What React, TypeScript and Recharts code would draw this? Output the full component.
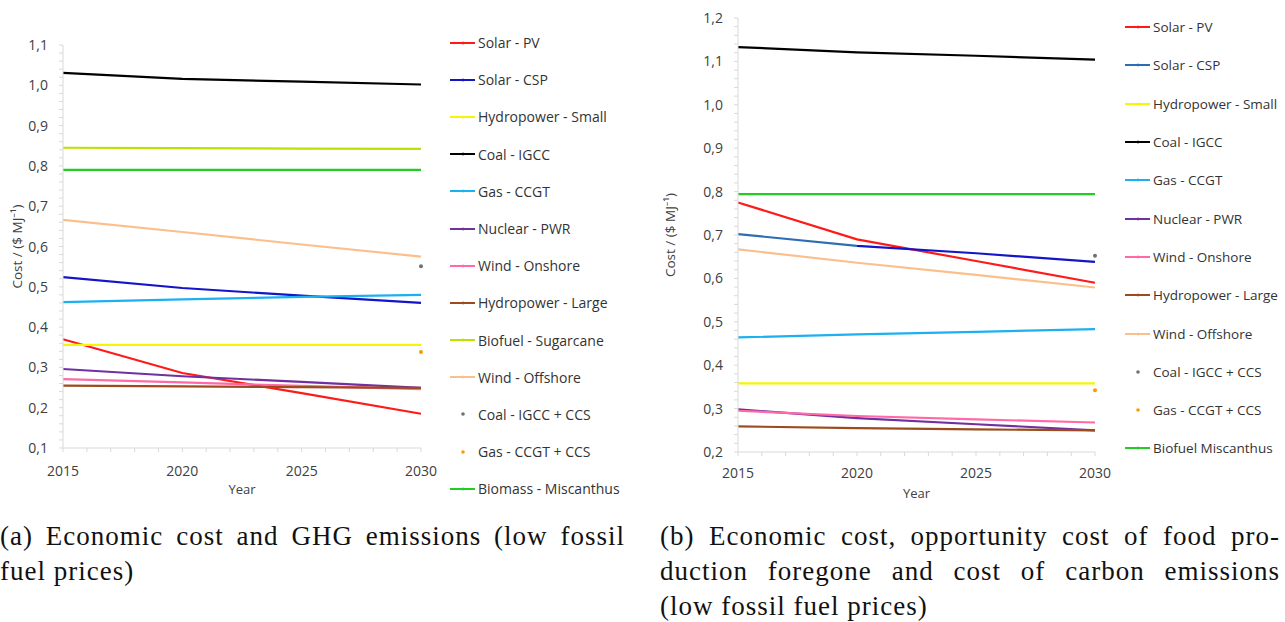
import React from "react";
import { Legend, Line, LineChart, XAxis, YAxis } from "recharts";

const years = [2015, 2020, 2025, 2030];
const yearTicks = [2015, 2020, 2025, 2030];

// (a) economic cost and GHG emissions, low fossil fuel prices
const aSolarPV = [0.37, 0.286, 0.236, 0.185];
const aSolarCSP = [0.524, 0.497, 0.478, 0.46];
const aHydroSmall = [0.356, 0.356, 0.356, 0.356];
const aCoalIGCC = [1.031, 1.016, 1.009, 1.002];
const aGasCCGT = [0.462, 0.469, 0.475, 0.48];
const aNuclearPWR = [0.296, 0.278, 0.264, 0.249];
const aWindOnshore = [0.271, 0.263, 0.254, 0.246];
const aHydroLarge = [0.255, 0.253, 0.251, 0.249];
const aBiofuelSugarcane = [0.845, 0.844, 0.843, 0.842];
const aWindOffshore = [0.666, 0.636, 0.605, 0.575];
const aCoalCCS = [null, null, null, 0.551];
const aGasCCS = [null, null, null, 0.338];
const aBiomassMiscanthus = [0.79, 0.79, 0.79, 0.79];
const aYTicks = [0.1, 0.2, 0.3, 0.4, 0.5, 0.6, 0.7, 0.8, 0.9, 1.0, 1.1];

// (b) + opportunity cost of food production and cost of carbon emissions
const bSolarPV = [0.775, 0.69, 0.64, 0.59];
const bSolarCSP = [0.702, 0.675, 0.658, 0.638];
const bHydroSmall = [0.358, 0.358, 0.358, 0.358];
const bCoalIGCC = [1.133, 1.121, 1.113, 1.104];
const bGasCCGT = [0.464, 0.471, 0.477, 0.483];
const bNuclearPWR = [0.298, 0.278, 0.264, 0.25];
const bWindOnshore = [0.295, 0.283, 0.275, 0.268];
const bHydroLarge = [0.259, 0.255, 0.252, 0.25];
const bWindOffshore = [0.667, 0.636, 0.608, 0.579];
const bCoalCCS = [null, null, null, 0.652];
const bGasCCS = [null, null, null, 0.342];
const bBiofuelMiscanthus = [0.794, 0.794, 0.794, 0.794];
const bYTicks = [0.2, 0.3, 0.4, 0.5, 0.6, 0.7, 0.8, 0.9, 1.0, 1.1, 1.2];

const axisGray = "#d9d9d9";
const labelGray = "#404040";
const font = '"Open Sans", "Noto Sans", sans-serif';

type Series = {
  key: string;
  name: string;
  color: string;
  values: (number | null)[];
  point?: boolean;
};

const seriesA: Series[] = [
  { key: "pv", name: "Solar - PV", color: "#ff1a1a", values: aSolarPV },
  { key: "csp", name: "Solar - CSP", color: "#1414c8", values: aSolarCSP },
  { key: "hs", name: "Hydropower - Small", color: "#f6f600", values: aHydroSmall },
  { key: "coal", name: "Coal - IGCC", color: "#000000", values: aCoalIGCC },
  { key: "gas", name: "Gas - CCGT", color: "#1cb0f0", values: aGasCCGT },
  { key: "nuc", name: "Nuclear - PWR", color: "#7030a0", values: aNuclearPWR },
  { key: "won", name: "Wind - Onshore", color: "#ff6aa6", values: aWindOnshore },
  { key: "hl", name: "Hydropower - Large", color: "#9c4a1e", values: aHydroLarge },
  { key: "sug", name: "Biofuel - Sugarcane", color: "#bde000", values: aBiofuelSugarcane },
  { key: "woff", name: "Wind - Offshore", color: "#fbbf8c", values: aWindOffshore },
  { key: "cccs", name: "Coal - IGCC + CCS", color: "#707070", values: aCoalCCS, point: true },
  { key: "gccs", name: "Gas - CCGT + CCS", color: "#ff9900", values: aGasCCS, point: true },
  { key: "mis", name: "Biomass - Miscanthus", color: "#22cc22", values: aBiomassMiscanthus }
];

const seriesB: Series[] = [
  { key: "pv", name: "Solar - PV", color: "#ff1a1a", values: bSolarPV },
  { key: "csp", name: "Solar - CSP", color: "#2e6db4", values: bSolarCSP },
  { key: "hs", name: "Hydropower - Small", color: "#f6f600", values: bHydroSmall },
  { key: "coal", name: "Coal - IGCC", color: "#000000", values: bCoalIGCC },
  { key: "gas", name: "Gas - CCGT", color: "#1cb0f0", values: bGasCCGT },
  { key: "nuc", name: "Nuclear - PWR", color: "#7030a0", values: bNuclearPWR },
  { key: "won", name: "Wind - Onshore", color: "#ff6aa6", values: bWindOnshore },
  { key: "hl", name: "Hydropower - Large", color: "#9c4a1e", values: bHydroLarge },
  { key: "woff", name: "Wind - Offshore", color: "#fbbf8c", values: bWindOffshore },
  { key: "cccs", name: "Coal - IGCC + CCS", color: "#707070", values: bCoalCCS, point: true },
  { key: "gccs", name: "Gas - CCGT + CCS", color: "#ff9900", values: bGasCCS, point: true },
  { key: "mis", name: "Biofuel Miscanthus", color: "#22cc22", values: bBiofuelMiscanthus }
];

const buildRows = (series: Series[]) =>
  years.map((year, i) => {
    const row: Record<string, number | null> = { year };
    series.forEach((s) => (row[s.key] = s.values[i]));
    return row;
  });

// minor ticks every 0.02 on y, every year on x
const minorSteps = (major: number[], step: number) => {
  const out: number[] = [];
  const lo = major[0];
  const hi = major[major.length - 1];
  for (let v = lo; v <= hi + 1e-9; v += step) out.push(Math.round(v * 100) / 100);
  return out;
};
const xAllTicks = minorSteps([2015, 2030], 1);

const YTick = (props: any) => {
  const { x, y, payload } = props;
  const v = payload.value;
  if (Math.round(v * 100) % 10 !== 0) return null;
  return (
    <text x={x} y={y} dy={5} textAnchor="end" fontSize={14} fill={labelGray} fontFamily={font}>
      {v.toFixed(1).replace(".", ",")}
    </text>
  );
};

const XTick = (props: any) => {
  const { x, y, payload } = props;
  if (!yearTicks.includes(payload.value)) return null;
  return (
    <text x={x} y={y} dy={10} textAnchor="middle" fontSize={14} fill={labelGray} fontFamily={font}>
      {payload.value}
    </text>
  );
};

const LegendBox = ({ series, rowH, fontSize }: { series: Series[]; rowH: number; fontSize: number }) => (
  <div style={{ fontFamily: font, fontSize, color: "#333333" }}>
    {series.map((s) => (
      <div key={s.key} style={{ height: rowH, display: "flex", alignItems: "center", whiteSpace: "nowrap" }}>
        <svg width={26} height={8} style={{ marginRight: 2 }}>
          {s.point ? (
            <circle cx={13} cy={4} r={1.8} fill={s.color} />
          ) : (
            <>
              <line x1={0} y1={4} x2={25} y2={4} stroke={s.color} strokeWidth={2} />
              <line x1={13} y1={2.5} x2={13} y2={5.5} stroke={s.color} strokeWidth={1} />
            </>
          )}
        </svg>
        {s.name}
      </div>
    ))}
  </div>
);

type PanelProps = {
  series: Series[];
  yTicks: number[];
  width: number;
  height: number;
  margin: { top: number; right: number; bottom: number; left: number };
  yWidth: number;
  labelOffset: number;
  xMargin: number;
  legendPos: { left: number; top: number };
  rowH: number;
  legendFont: number;
  gradientCSP?: boolean;
};

const Panel = (p: PanelProps) => {
  const data = buildRows(p.series);
  const yAll = minorSteps(p.yTicks, 0.02);
  return (
    <LineChart width={p.width} height={p.height} data={data} margin={p.margin}>
      <defs>
        <linearGradient id="cspGrad" x1="0" y1="0" x2="1" y2="0">
          <stop offset="0" stopColor="#2e6db4" />
          <stop offset="0.333" stopColor="#2e6db4" />
          <stop offset="0.333" stopColor="#1414c8" />
          <stop offset="1" stopColor="#1414c8" />
        </linearGradient>
      </defs>
      <XAxis
        dataKey="year"
        type="number"
        domain={[2015, 2030]}
        ticks={xAllTicks}
        interval={0}
        height={50}
        axisLine={{ stroke: axisGray }}
        tickLine={{ stroke: axisGray }}
        tickSize={4}
        tickMargin={p.xMargin}
        tick={<XTick />}
        label={{ value: "Year", position: "insideBottom", offset: 4, fill: labelGray, fontSize: 13, fontFamily: font }}
      />
      <YAxis
        type="number"
        domain={[p.yTicks[0], p.yTicks[p.yTicks.length - 1]]}
        ticks={yAll}
        interval={0}
        width={p.yWidth}
        axisLine={{ stroke: axisGray }}
        tickLine={{ stroke: axisGray }}
        tickSize={4}
        tickMargin={11}
        tick={<YTick />}
        label={{
          value: "Cost / ($ MJ\u207B\u00B9)",
          angle: -90,
          position: "insideLeft",
          offset: p.labelOffset,
          fill: labelGray,
          fontSize: 13.5,
          fontFamily: font,
          style: { textAnchor: "middle" }
        }}
      />
      <Legend
        layout="vertical"
        align="center"
        verticalAlign="middle"
        wrapperStyle={{ left: p.legendPos.left, top: p.legendPos.top, width: 200 }}
        content={() => <LegendBox series={p.series} rowH={p.rowH} fontSize={p.legendFont} />}
      />
      {p.series.map((s) =>
        s.point ? (
          <Line
            key={s.key}
            dataKey={s.key}
            name={s.name}
            stroke="none"
            dot={{ r: 2, fill: s.color, stroke: "none" }}
            isAnimationActive={false}
          />
        ) : (
          <Line
            key={s.key}
            type="linear"
            dataKey={s.key}
            name={s.name}
            stroke={p.gradientCSP && s.key === "csp" ? "url(#cspGrad)" : s.color}
            strokeWidth={2.2}
            dot={false}
            isAnimationActive={false}
          />
        )
      )}
    </LineChart>
  );
};

const captionStyle: React.CSSProperties = {
  position: "absolute",
  top: 519,
  fontFamily: '"Liberation Serif", "Times New Roman", serif',
  fontSize: 27,
  letterSpacing: 1,
  lineHeight: "35px",
  color: "#111111"
};
const fullLine: React.CSSProperties = { textAlign: "justify", textAlignLast: "justify", whiteSpace: "nowrap" };

const App = () => (
  <div style={{ position: "absolute", left: 0, top: 0, width: 1285, height: 622, background: "#fff" }}>
    <div style={{ position: "absolute", left: 0, top: 0 }}>
      <Panel
        series={seriesA}
        yTicks={aYTicks}
        width={650}
        height={510}
        margin={{ top: 45, right: 229, bottom: 12, left: 0 }}
        yWidth={63}
        labelOffset={17}
        xMargin={14}
        legendPos={{ left: 450, top: 24 }}
        rowH={37.2}
        legendFont={14}
      />
    </div>
    <div style={{ position: "absolute", left: 660, top: 0 }}>
      <Panel
        series={seriesB}
        yTicks={bYTicks}
        width={625}
        height={510}
        margin={{ top: 18, right: 190, bottom: 8, left: 0 }}
        yWidth={78}
        labelOffset={10}
        xMargin={12}
        legendPos={{ left: 465, top: 8 }}
        rowH={38.3}
        legendFont={13.5}
        gradientCSP
      />
    </div>
    <div style={{ ...captionStyle, left: 0, width: 625 }}>
      <div style={fullLine}>(a) Economic cost and GHG emissions (low fossil</div>
      <div>fuel prices)</div>
    </div>
    <div style={{ ...captionStyle, left: 660, width: 620 }}>
      <div style={fullLine}>(b) Economic cost, opportunity cost of food pro-</div>
      <div style={fullLine}>duction foregone and cost of carbon emissions</div>
      <div>(low fossil fuel prices)</div>
    </div>
  </div>
);

export default App;
